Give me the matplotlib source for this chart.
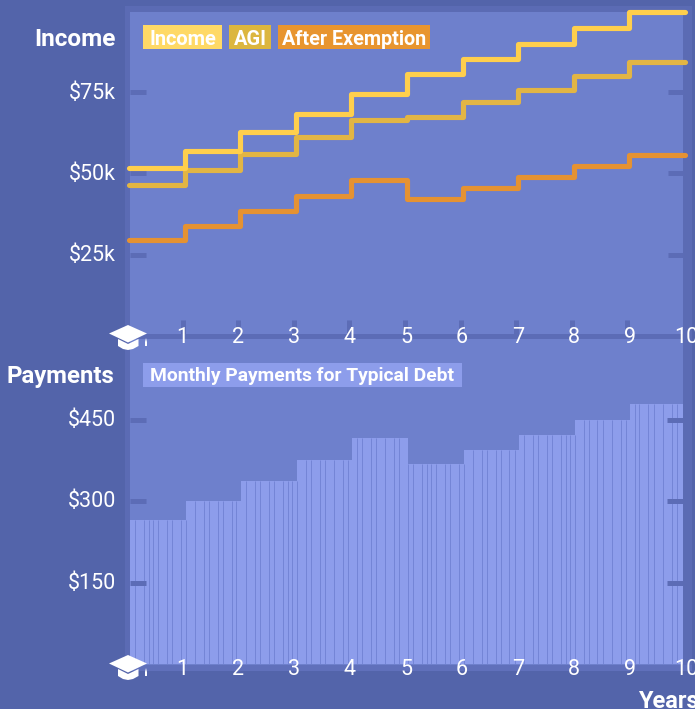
#!/usr/bin/env python

import numpy as np
import matplotlib
matplotlib.use('Agg')
import matplotlib.pyplot as plt
from matplotlib.patches import Rectangle, Polygon

plt.rcParams['font.family'] = ['Roboto', 'DejaVu Sans']

# values are per year, in thousands of dollars for the top panel
years = [0, 1, 2, 3, 4, 5, 6, 7, 8, 9, 10]
income = [51.7, 57.0, 62.6, 68.3, 74.3, 80.6, 85.2, 89.8, 94.6, 99.5]
agi = [46.3, 51.0, 56.0, 61.3, 66.5, 67.4, 72.0, 75.6, 79.9, 84.2]
afterExemption = [29.4, 33.8, 38.3, 43.0, 48.0, 42.1, 45.5, 48.9, 52.3, 55.7]
payments = [266, 300, 338, 376, 417, 369, 395, 423, 450, 480]
monthsPerYear = 12

incomeTicks = [25, 50, 75]
incomeTickLabels = ['$25k', '$50k', '$75k']
paymentTicks = [150, 300, 450]
paymentTickLabels = ['$150', '$300', '$450']
yearTicks = [1, 2, 3, 4, 5, 6, 7, 8, 9, 10]

legendNames = ['Income', 'AGI', 'After Exemption']

BG = '#5364aa'
BAND = '#5b6bb4'
PANEL = '#6e80cc'
TICK = '#5c6cb6'
BAR = '#8d9deb'
GAP = '#7485d6'
LINE_COLORS = ['#ffcf4d', '#e2b544', '#e59232']
LEGEND_COLORS = ['#ffd966', '#dcb63f', '#e8952f']

W, H = 695, 709


def fx(x):
    return x / W


def fy(y):
    return 1 - y / H


def addAxes(fig, left, right, top, bottom):
    axes = fig.add_axes([fx(left), fy(bottom), (right - left) / W, (bottom - top) / H])
    axes.patch.set_alpha(0)
    for spine in axes.spines.values():
        spine.set_visible(False)
    axes.set_xticks([])
    axes.set_yticks([])
    return axes


def figRect(fig, x0, y0, x1, y1, color, zorder=0):
    fig.add_artist(Rectangle((fx(x0), fy(y1)), (x1 - x0) / W, (y1 - y0) / H, transform=fig.transFigure,
                             facecolor=color, edgecolor='none', zorder=zorder))


def label(fig, x, y, text, size=16, weight='normal', ha='center', zorder=6):
    fig.text(fx(x), fy(y), text, color='white', fontsize=size, fontweight=weight, ha=ha, va='center_baseline',
             zorder=zorder)


def drawCap(fig, dy):
    poly = [[(118, 339), (128, 344), (138.5, 339), (138.5, 346), (133, 349), (128, 350), (123, 349), (118, 346)],
            [(109, 333.5), (128, 325), (147, 333.5), (128, 342.5)],
            [(145, 342), (146, 338), (147, 342), (147, 346), (145, 346)]]
    for points in poly:
        fig.add_artist(Polygon([(fx(x), fy(y + dy)) for x, y in points], closed=True, transform=fig.transFigure,
                               facecolor='white', edgecolor='none', zorder=7))


fig = plt.figure(figsize=(W / 100, H / 100), dpi=100, facecolor=BG)

# panel and the lighter frame around it
figRect(fig, 125, 6, 692, 671, BAND)
figRect(fig, 130, 12, 683, 665, PANEL)

# x axis bands
figRect(fig, 125, 334, 683, 339, TICK, zorder=1)
figRect(fig, 125, 665, 692, 671, '#6070bb', zorder=1)

# ------- top chart -------
top = addAxes(fig, 129, 685, 10.8, 336)
top.set_xlim(0, 10)
top.set_ylim(0, 100)
for tick in incomeTicks:
    top.plot([0.01, 0.3], [tick, tick], color=TICK, lw=3.6, solid_capstyle='butt', zorder=1)
    top.plot([9.7, 9.96], [tick, tick], color=TICK, lw=3.6, solid_capstyle='butt', zorder=1)
for year in yearTicks[:-1]:
    top.plot([year - 0.035, year - 0.035], [0, 5], color=TICK, lw=3.6, solid_capstyle='butt', zorder=1)

for values, color in zip([afterExemption, agi, income], [LINE_COLORS[2], LINE_COLORS[1], LINE_COLORS[0]]):
    patch = top.stairs(values, years, baseline=None, color=color, lw=3.7, zorder=3, clip_on=False)
    patch.set_capstyle('round')
    patch.set_joinstyle('round')

# ------- bottom chart -------
# the axes stops at the panel edge, so the last year is cut a little short
barLeft = 129.98
bottom = addAxes(fig, barLeft, 683, 375, 664)
bottom.set_xlim(0, (683 - barLeft) / 55.6)
bottom.set_ylim(0, 533)
monthX = np.arange(10 * monthsPerYear) / monthsPerYear
monthValues = np.repeat(payments, monthsPerYear)
barWidth = 1.0 / monthsPerYear
bottom.bar(monthX, monthValues, width=barWidth, align='edge', color=BAR, edgecolor='none', zorder=2)

# the thin gap between two bars only shows when it crosses a pixel centre
gapPixels = 0.65
edges = bottom.transData.transform(np.column_stack([monthX[1:], np.zeros(len(monthX) - 1)]))[:, 0]
centres = np.floor(edges - 0.5) + 0.5
shown = centres >= edges - gapPixels
gapX = bottom.transData.inverted().transform(np.column_stack([centres, np.zeros(len(centres))]))[:, 0]
gapTop = np.minimum(monthValues[:-1], monthValues[1:])
bottom.vlines(gapX[shown], 0, gapTop[shown], color=GAP, lw=0.72, zorder=3)

for tick in paymentTicks:
    bottom.plot([0, 0.28], [tick, tick], color=TICK, lw=3.6, solid_capstyle='butt', zorder=4)
    bottom.plot([9.65, 9.94], [tick, tick], color=TICK, lw=3.6, solid_capstyle='butt', zorder=4)

# ------- text -------
for tick, text in zip(incomeTicks, incomeTickLabels):
    label(fig, 116, 334.5 - tick * 3.252, text, size=15.5, ha='right')
for tick, text in zip(paymentTicks, paymentTickLabels):
    label(fig, 116, 662 - tick * 0.542, text, size=15.5, ha='right')
for year in yearTicks:
    label(fig, 126 + year * 56, 335, str(year), size=15.5)
    label(fig, 126 + year * 56, 667, str(year), size=15.5)

label(fig, 116, 37.5, 'Income', size=17.6, weight='bold', ha='right')
label(fig, 114, 374.5, 'Payments', size=17.3, weight='bold', ha='right')
label(fig, 638, 699, 'Years', size=17, weight='bold', ha='left')

boxes = [(143, 222), (229, 271), (278, 430)]
legendSizes = [14.4, 14.4, 14.2]
for (x0, x1), name, color, size in zip(boxes, legendNames, LEGEND_COLORS, legendSizes):
    figRect(fig, x0, 25, x1, 49, color, zorder=5)
    label(fig, (x0 + x1) / 2, 37.5, name, size=size, weight='bold')
figRect(fig, 143, 363, 462, 387, BAR, zorder=5)
label(fig, 302.5, 374.5, 'Monthly Payments for Typical Debt', size=13.9, weight='bold')

drawCap(fig, 0)
drawCap(fig, 330)

fig.savefig('out.png', dpi=100, facecolor=BG)
